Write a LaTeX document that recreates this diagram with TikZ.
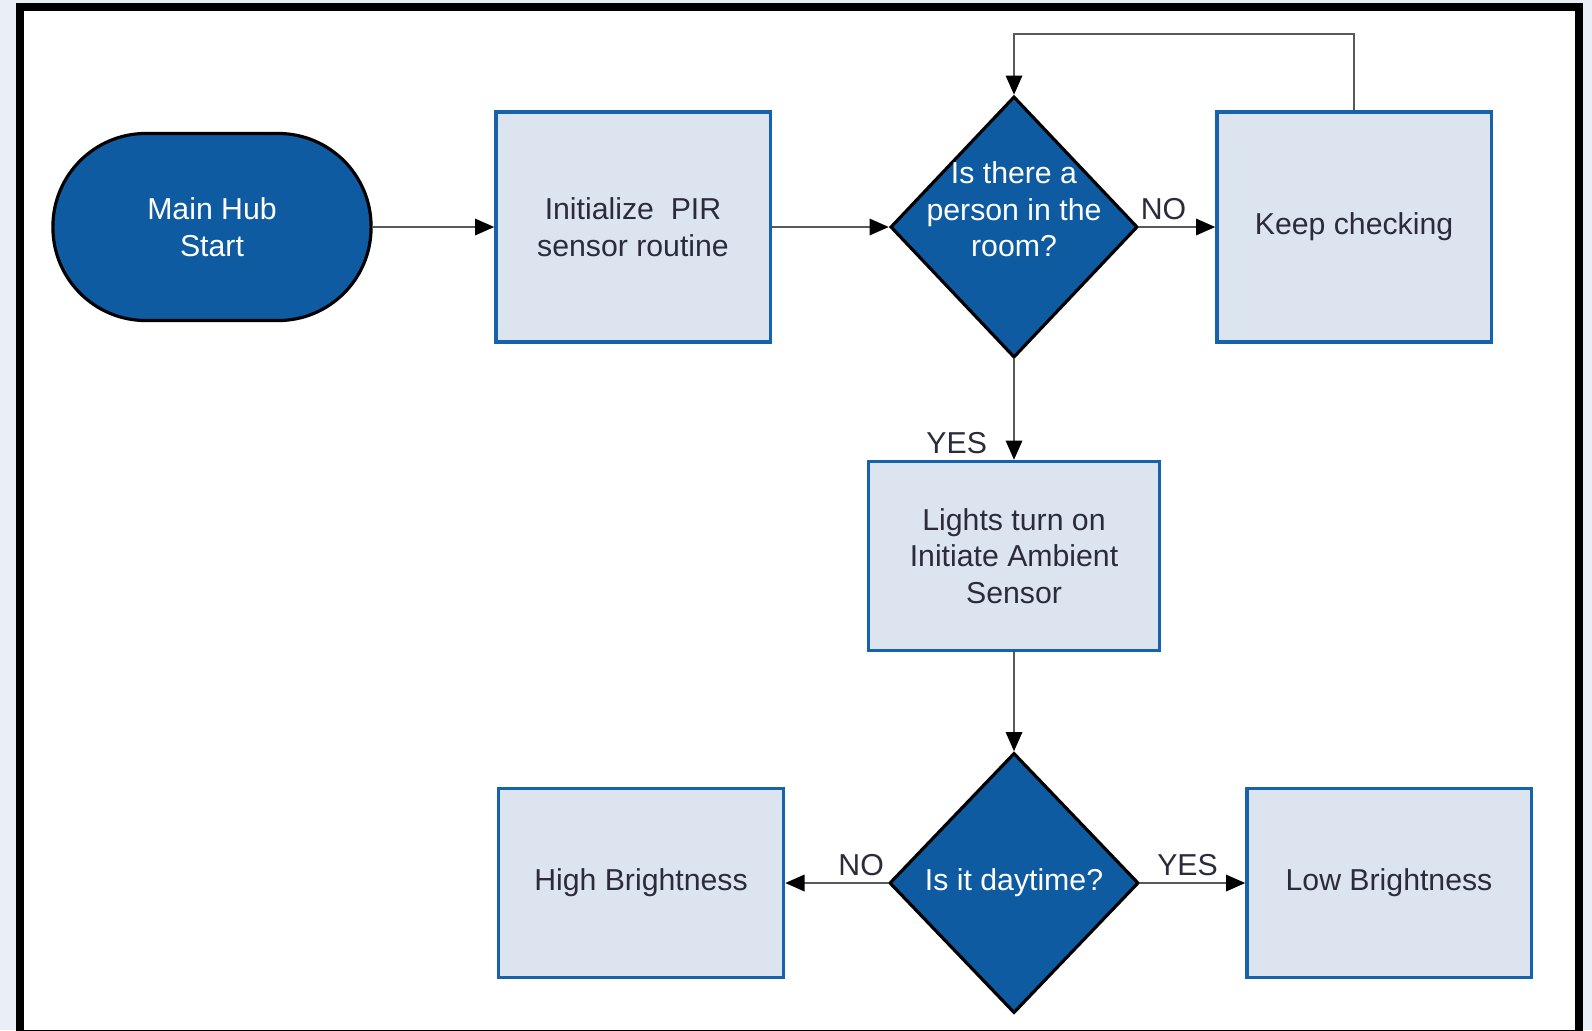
\documentclass[tikz,border=0pt]{standalone}
\usepackage{fontspec}
\setmainfont{Liberation Sans}
\usetikzlibrary{shapes.geometric,arrows.meta}

\definecolor{hubblue}{HTML}{0F5BA2}
\definecolor{boxfill}{HTML}{DCE4EF}
\definecolor{boxline}{HTML}{1662AC}
\definecolor{boxtext}{HTML}{2B2B3C}
\definecolor{pagebg}{HTML}{E9EEF7}
\colorlet{wirecol}{black!65}

\tikzset{
  procbox/.style={draw=boxline, fill=boxfill, line width=0.9pt,
                  text=boxtext, align=center, inner sep=0},
  decision/.style={diamond, draw=black, fill=hubblue, line width=0.9pt,
                   inner sep=0, minimum width=2.47cm, minimum height=2.61cm},
  dtext/.style={text=white, align=center, inner sep=0},
  flow/.style={-{Triangle[length=5.5pt,width=4.6pt,color=black]}, wirecol, line width=0.8pt},
  lbl/.style={text=boxtext, inner sep=1.6pt},
}

\begin{document}
\begin{tikzpicture}[x=0.01cm, y=-0.01cm,
      font=\fontsize{8.6}{10.4}\selectfont,
    ]
    \useasboundingbox (0,0) rectangle (1592,1030);

    % Frame
    \fill[pagebg] (0,0) rectangle (1592,1030);
    \fill[white] (20,6.5) rectangle (1579,1034);
    \draw[line width=0.08cm] (20,6.5) rectangle (1579,1034);

    % Start terminal
    \node[draw=black, fill=hubblue, line width=0.9pt, rounded corners=0.93cm,
          minimum width=3.18cm, minimum height=1.87cm, text=white, align=center]
          (start) at (212,227) {Main Hub\\Start};

    % Process boxes
    \node[procbox, minimum width=2.74cm, minimum height=2.30cm] (init) at (633,227)
          {Initialize\ \ PIR\\sensor routine};
    \node[procbox, minimum width=2.74cm, minimum height=2.30cm] (keep) at (1354,227)
          {Keep checking};
    \node[procbox, minimum width=2.91cm, minimum height=1.89cm] (lights) at (1014,556)
          {Lights turn on\\Initiate Ambient\\Sensor};
    \node[procbox, minimum width=2.85cm, minimum height=1.89cm] (high) at (641,883)
          {High Brightness};
    \node[procbox, minimum width=2.84cm, minimum height=1.89cm] (low) at (1389,883)
          {Low Brightness};

    % Decisions
    \node[decision] (person) at (1014,227) {};
    \node[dtext] (persontxt) at ([yshift=5pt]person.center) {Is there a\\person in the\\room?};
    \node[decision, minimum width=2.49cm, minimum height=2.60cm] (day) at (1014,883) {};
    \node[dtext] (daytxt) at (day.center) {Is it daytime?};

    % Connectors
    \coordinate (looptop) at (1200,34);
    \draw[flow] (start) -- (init);
    \draw[flow] (init) -- (person.west);
    \draw[flow] (person.east) -- node[lbl, above, pos=0.32] {NO} (keep);
    \draw[flow] (keep.north) -- (keep.north |- looptop) -| (person.north);
    \draw[flow] (person.south) -- node[lbl, left=2mm, pos=0.83] {YES} (lights);
    \draw[flow] (lights) -- (day.north);
    \draw[flow] (day.west) -- node[lbl, above, pos=0.26] {NO} (high);
    \draw[flow] (day.east) -- node[lbl, above, pos=0.45] {YES} (low);
  \end{tikzpicture}
\end{document}
